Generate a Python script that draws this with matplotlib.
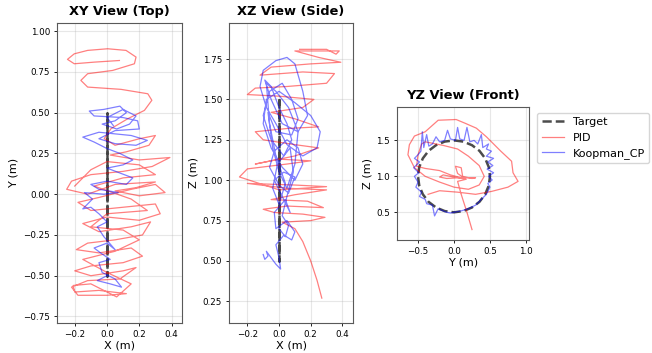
import matplotlib
matplotlib.use("Agg")
import matplotlib.pyplot as plt

# target: circle in the YZ plane (x = 0)
target_y = [0.0, 0.129, 0.25, 0.354, 0.433, 0.483, 0.5, 0.483, 0.433, 0.354, 0.25, 0.129,
            0.0, -0.129, -0.25, -0.354, -0.433, -0.483, -0.5, -0.483, -0.433, -0.354, -0.25, -0.129, 0.0]
target_z = [1.5, 1.483, 1.433, 1.354, 1.25, 1.129, 1.0, 0.871, 0.75, 0.646, 0.567, 0.517,
            0.5, 0.517, 0.567, 0.646, 0.75, 0.871, 1.0, 1.129, 1.25, 1.354, 1.433, 1.483, 1.5]
target_x = [0.0] * len(target_y)

# PID, top view (x, y)
pid_xy_x = [0.077, -0.079, -0.203, -0.245, -0.203, -0.12, 0.004, 0.118, 0.18, 0.17, 0.035, -0.12,
            -0.162, -0.12, 0.087, 0.253, 0.278, 0.232, 0.129, 0.025, -0.017, 0.05, 0.2, 0.3, 0.26,
            0.12, 0.02, 0.2, 0.39, 0.28, 0.1, -0.1, -0.22, -0.25, -0.12, 0.05, 0.3, 0.18, 0.05, 0.2,
            0.36, 0.3, 0.15, -0.05, -0.18, -0.1, 0.1, 0.3, 0.33, 0.2, 0.0, -0.15, -0.05, 0.15, 0.27,
            0.22, 0.05, -0.12, -0.19, -0.05, 0.15, 0.22, 0.1, -0.1, -0.2, -0.1, 0.1, 0.18, 0.08, -0.12,
            -0.22, -0.18, 0.0, 0.12, -0.05, -0.2, -0.21, -0.1, 0.06, 0.15, 0.0, -0.15, 0.05, 0.2,
            0.1, -0.1, 0.0, 0.25, 0.15, -0.08, 0.1, 0.3, 0.2, 0.0, -0.1, -0.2]
pid_xy_y = [0.82, 0.81, 0.8, 0.827, 0.861, 0.882, 0.892, 0.882, 0.841, 0.8, 0.759, 0.739,
            0.698, 0.657, 0.643, 0.616, 0.576, 0.514, 0.463, 0.402, 0.341, 0.3, 0.34, 0.36, 0.3,
            0.26, 0.24, 0.21, 0.225, 0.17, 0.14, 0.12, 0.08, 0.03, 0.0, 0.06, 0.075, 0.04, 0.02, -0.01,
            0.01, 0.06, 0.03, -0.02, -0.05, -0.1, -0.08, -0.06, -0.12, -0.16, -0.14, -0.18, -0.23, -0.2, -0.17,
            -0.25, -0.28, -0.3, -0.34, -0.36, -0.33, -0.38, -0.42, -0.44, -0.47, -0.5, -0.47, -0.45, -0.52, -0.53,
            -0.57, -0.62, -0.62, -0.61, -0.59, -0.6, -0.56, -0.55, -0.63, -0.55, -0.48, -0.4, -0.35, -0.28,
            -0.22, -0.2, -0.12, -0.1, -0.03, 0.05, 0.1, 0.12, 0.18, 0.2, 0.15, 0.05]

# Koopman_CP, top view (x, y)
kcp_xy_x = [0.0, -0.06, 0.02, 0.09, 0.05, -0.03, -0.05, 0.02, -0.04, -0.08, 0.0, 0.05, -0.02,
            -0.06, 0.0, -0.05, -0.1, -0.15, -0.09, -0.14, -0.02, 0.07, -0.05, -0.1, 0.0, 0.12, 0.16,
            0.08, 0.0, 0.1, 0.16, 0.08, 0.0, -0.08, -0.15, -0.05, 0.15, 0.25, 0.18, 0.05, -0.05, 0.05,
            0.2, 0.19, 0.1, -0.08, -0.11, -0.02, 0.08, 0.12, 0.05, -0.03, 0.06, 0.14, 0.18, 0.1, 0.0, 0.04]
kcp_xy_y = [-0.5, -0.53, -0.55, -0.57, -0.52, -0.48, -0.42, -0.4, -0.36, -0.33, -0.3, -0.34, -0.26,
            -0.2, -0.17, -0.12, -0.08, -0.09, -0.03, 0.01, 0.0, 0.01, 0.03, 0.06, 0.08, 0.06, 0.1,
            0.13, 0.16, 0.18, 0.21, 0.25, 0.28, 0.32, 0.35, 0.38, 0.36, 0.33, 0.3, 0.31, 0.34, 0.39,
            0.4, 0.45, 0.47, 0.48, 0.51, 0.52, 0.54, 0.5, 0.45, 0.43, 0.4, 0.43, 0.48, 0.52, 0.47, 0.42]

# PID, side view (x, z)
pid_xz_x = [0.27, 0.24, 0.2, 0.15, 0.1, 0.02, 0.2, 0.29, 0.15, -0.03, -0.1, 0.05, 0.28, 0.18,
            -0.05, 0.1, 0.3, 0.05, -0.2, 0.1, 0.3, 0.0, -0.25, -0.2, 0.05, 0.2, 0.0, -0.15, 0.1,
            0.25, 0.1, -0.1, -0.15, 0.05, 0.25, 0.1, -0.05, 0.15, 0.22, 0.0, -0.2, -0.15, 0.05, 0.3,
            0.35, 0.15, -0.12, -0.05, 0.2, 0.39, 0.25, 0.1, 0.22, 0.38, 0.36, 0.3, 0.13]
pid_xz_z = [0.27, 0.38, 0.5, 0.62, 0.7, 0.74, 0.75, 0.77, 0.79, 0.8, 0.82, 0.84, 0.83, 0.87,
            0.88, 0.91, 0.94, 0.95, 0.98, 0.97, 0.96, 0.94, 1.02, 1.07, 1.1, 1.12, 1.13, 1.1, 1.15,
            1.2, 1.22, 1.25, 1.3, 1.32, 1.33, 1.38, 1.42, 1.45, 1.5, 1.52, 1.53, 1.57, 1.58, 1.6,
            1.66, 1.67, 1.65, 1.7, 1.72, 1.73, 1.76, 1.8, 1.8, 1.8, 1.78, 1.81, 1.81]

# Koopman_CP, side view (x, z)
kcp_xz_x = [-0.1, -0.09, -0.07, -0.08, -0.05, -0.02, 0.01, 0.0, -0.02, 0.03, 0.08, 0.1, 0.05,
            -0.02, -0.03, 0.04, 0.07, 0.02, -0.03, 0.03, 0.1, 0.06, 0.0, -0.06, -0.03, 0.05, 0.12,
            0.15, 0.1, 0.02, -0.05, -0.1, -0.08, 0.0, 0.1, 0.2, 0.26, 0.24, 0.15, 0.05, -0.02, -0.08,
            -0.12, -0.1, -0.02, 0.05, 0.1, 0.15, 0.18, 0.12, 0.02, -0.05, -0.09, -0.05, 0.0, 0.05, 0.08,
            0.03, -0.05, -0.1, -0.06, 0.02, 0.08, 0.12, 0.08, -0.02, -0.07, -0.04, 0.0, 0.05, 0.1,
            0.12, 0.06, -0.02, -0.08, -0.06, -0.02, 0.04, 0.0, -0.04, -0.01, 0.07, 0.09, 0.05, 0.02,
            0.06, 0.04, 0.0]
kcp_xz_z = [0.54, 0.51, 0.53, 0.56, 0.52, 0.48, 0.45, 0.52, 0.6, 0.66, 0.63, 0.68, 0.75,
            0.7, 0.8, 0.88, 0.8, 0.9, 1.0, 1.05, 1.02, 0.92, 0.97, 1.08, 1.18, 1.25, 1.2,
            1.1, 1.0, 1.08, 1.2, 1.35, 1.5, 1.55, 1.48, 1.4, 1.3, 1.2, 1.15, 1.22, 1.35, 1.45,
            1.58, 1.68, 1.74, 1.76, 1.72, 1.55, 1.4, 1.3, 1.35, 1.5, 1.62, 1.58, 1.45, 1.35, 1.25,
            1.15, 1.25, 1.4, 1.55, 1.6, 1.5, 1.38, 1.28, 1.3, 1.42, 1.2, 1.05, 0.95, 1.1,
            1.3, 1.45, 1.55, 1.6, 1.35, 1.15, 0.98, 0.85, 0.95, 1.1, 1.2, 1.05, 0.9, 0.78,
            0.72, 0.65, 0.7]

# PID, front view (y, z)
pid_yz_y = [0.25, 0.18, 0.1, 0.05, 0.17, 0.05, -0.1, -0.2, -0.15, 0.0, 0.15, 0.05, 0.02, 0.1,
            0.12, 0.25, 0.3, 0.1, -0.05, -0.2, -0.4, -0.52, -0.5, -0.45, -0.4, -0.15, 0.05, 0.2,
            0.35, 0.42, 0.35, 0.2, 0.0, -0.2, -0.4, -0.55, -0.64, -0.62, -0.55, -0.4, -0.22, 0.03,
            0.15, 0.31, 0.45, 0.56, 0.65, 0.8, 0.82, 0.89, 0.75, 0.52, 0.3, 0.05, -0.2, -0.36]
pid_yz_z = [0.26, 0.5, 0.75, 0.93, 0.96, 0.98, 0.97, 0.99, 1.02, 0.99, 0.97, 1.04, 1.14, 1.12,
            1.0, 0.97, 0.98, 0.98, 1.02, 1.08, 1.11, 1.14, 1.3, 1.45, 1.48, 1.43, 1.38, 1.28,
            1.15, 1.0, 0.88, 0.82, 0.85, 0.92, 1.0, 1.12, 1.3, 1.44, 1.56, 1.62, 1.78, 1.79,
            1.74, 1.67, 1.55, 1.44, 1.35, 1.21, 1.05, 0.93, 0.85, 0.79, 0.75, 0.78, 0.8, 0.75]

# Koopman_CP, front view (y, z)
kcp_yz_y = [0.0, 0.1, 0.2, 0.3, 0.38, 0.45, 0.5, 0.47, 0.53, 0.48, 0.55, 0.46, 0.54, 0.47, 0.55,
            0.45, 0.52, 0.45, 0.48, 0.4, 0.38, 0.33, 0.28, 0.22, 0.18, 0.14, 0.08, 0.05, 0.02, -0.05,
            -0.09, -0.13, -0.2, -0.25, -0.3, -0.35, -0.38, -0.42, -0.44, -0.46, -0.5, -0.55, -0.48,
            -0.56, -0.49, -0.55, -0.5, -0.53, -0.45, -0.48, -0.4, -0.38, -0.3, -0.27, -0.22, -0.15,
            -0.1, -0.05, 0.0]
kcp_yz_z = [0.5, 0.52, 0.55, 0.6, 0.68, 0.75, 0.85, 0.9, 0.95, 1.0, 1.05, 1.1, 1.15, 1.2, 1.25,
            1.28, 1.35, 1.38, 1.45, 1.4, 1.58, 1.45, 1.5, 1.48, 1.68, 1.5, 1.52, 1.68, 1.5, 1.52,
            1.64, 1.5, 1.48, 1.55, 1.45, 1.42, 1.58, 1.4, 1.62, 1.35, 1.3, 1.25, 1.2,
            1.12, 1.05, 1.0, 0.92, 0.85, 0.78, 0.72, 0.68, 0.62, 0.6, 0.45, 0.55, 0.52,
            0.5, 0.49, 0.5]

W, H = 652, 353
fig = plt.figure(figsize=(W / 100, H / 100), dpi=100)


def px_rect(left, top, right, bottom):
    return [left / W, (H - bottom) / H, (right - left) / W, (bottom - top) / H]


ax1 = fig.add_axes(px_rect(57, 23, 182, 323))
ax2 = fig.add_axes(px_rect(229, 23, 353, 323))
ax3 = fig.add_axes(px_rect(397, 107, 529, 240))

tgt = dict(color="k", ls="--", lw=1.8, alpha=0.7, label="Target")
pid = dict(color="red", lw=0.9, alpha=0.5, label="PID")
kcp = dict(color="blue", lw=0.9, alpha=0.5, label="Koopman_CP")

ax1.plot(target_x, target_y, **tgt)
ax1.plot(pid_xy_x, pid_xy_y, **pid)
ax1.plot(kcp_xy_x, kcp_xy_y, **kcp)
ax1.set_xlim(-0.31, 0.465)
ax1.set_ylim(-0.79, 1.05)
ax1.set_xticks([-0.2, 0.0, 0.2, 0.4])
ax1.set_yticks([-0.75, -0.5, -0.25, 0.0, 0.25, 0.5, 0.75, 1.0])
ax1.set_xlabel("X (m)")
ax1.set_ylabel("Y (m)")
ax1.set_title("XY View (Top)", fontweight="bold")

ax2.plot(target_x, target_z, **tgt)
ax2.plot(pid_xz_x, pid_xz_z, **pid)
ax2.plot(kcp_xz_x, kcp_xz_z, **kcp)
ax2.set_xlim(-0.316, 0.467)
ax2.set_ylim(0.116, 1.973)
ax2.set_xticks([-0.2, 0.0, 0.2, 0.4])
ax2.set_yticks([0.25, 0.5, 0.75, 1.0, 1.25, 1.5, 1.75])
ax2.set_xlabel("X (m)")
ax2.set_ylabel("Z (m)")
ax2.set_title("XZ View (Side)", fontweight="bold")

ax3.plot(target_y, target_z, **tgt)
ax3.plot(pid_yz_y, pid_yz_z, **pid)
ax3.plot(kcp_yz_y, kcp_yz_z, **kcp)
ax3.set_xlim(-0.792, 1.042)
ax3.set_ylim(0.115, 1.964)
ax3.set_xticks([-0.5, 0.0, 0.5, 1.0])
ax3.set_yticks([0.5, 1.0, 1.5])
ax3.set_xlabel("Y (m)")
ax3.set_ylabel("Z (m)")
ax3.set_title("YZ View (Front)", fontweight="bold")
ax3.legend(loc="upper left", bbox_to_anchor=(1.02, 1), fontsize=8)

for ax in (ax1, ax2, ax3):
    ax.grid(True, alpha=0.3)
    ax.tick_params(labelsize=6.3, width=0.6, length=2.5, pad=2.5)
    ax.xaxis.label.set_size(8.1)
    ax.yaxis.label.set_size(8.1)
    ax.xaxis.labelpad = 1
    ax.yaxis.labelpad = 3
    ax.title.set_size(9.4)
    for s in ax.spines.values():
        s.set_color("0.35")
        s.set_linewidth(0.8)

fig.savefig("out.png", dpi=100)
